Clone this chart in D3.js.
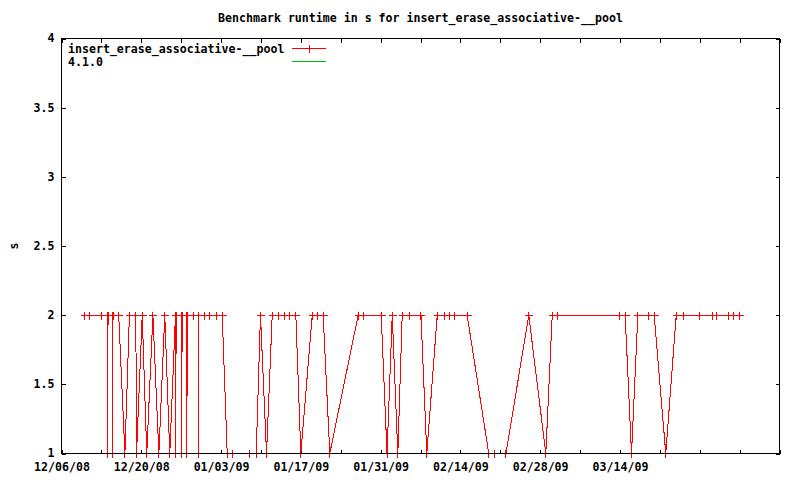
<!DOCTYPE html>
<html><head><meta charset="utf-8">
<script src="https://cdn.jsdelivr.net/npm/d3@7"></script>
<style>
body{margin:0;background:#fff;}
svg{display:block;}
text{font-family:"DejaVu Sans Mono",monospace;font-weight:bold;font-size:11.6px;fill:#000;}
</style></head><body>
<svg id="c" width="800" height="480"></svg>
<script>
const title = "Benchmark runtime in s for insert_erase_associative-__pool";
const seriesName = "insert_erase_associative-__pool";
const series2Name = "4.1.0";
const yLabel = "s";

const times = [
"2008-12-10 02:00","2008-12-10 23:00","2008-12-13 02:00","2008-12-14 02:00","2008-12-14 03:00","2008-12-14 04:00",
"2008-12-14 23:00","2008-12-15 00:00","2008-12-15 01:00","2008-12-16 01:00","2008-12-17 03:00","2008-12-17 22:00",
"2008-12-19 01:00","2008-12-19 04:00","2008-12-20 04:00","2008-12-20 23:00","2008-12-22 01:00","2008-12-23 02:00",
"2008-12-24 03:00","2008-12-25 00:00","2008-12-26 00:00","2008-12-26 01:30","2008-12-26 02:40","2008-12-27 01:00",
"2008-12-27 02:40","2008-12-27 03:55","2008-12-27 23:00","2008-12-28 00:10","2008-12-28 01:25","2008-12-29 02:40",
"2008-12-30 01:20","2008-12-30 02:15","2008-12-30 03:05","2008-12-31 02:00","2009-01-01 01:00","2009-01-02 03:30",
"2009-01-03 05:00","2009-01-04 02:00","2009-01-05 01:30","2009-01-08 01:00","2009-01-09 04:00","2009-01-09 22:00",
"2009-01-10 23:30","2009-01-11 23:30","2009-01-13 03:00","2009-01-14 03:00","2009-01-15 01:30","2009-01-16 03:00",
"2009-01-17 00:00","2009-01-19 00:00","2009-01-19 23:30","2009-01-20 22:00","2009-01-22 02:00","2009-01-27 01:30",
"2009-01-28 01:00","2009-01-31 02:30","2009-02-01 03:00","2009-02-02 01:00","2009-02-03 00:30","2009-02-03 19:00",
"2009-02-05 01:30","2009-02-07 02:00","2009-02-08 02:30","2009-02-09 22:30","2009-02-11 03:00","2009-02-12 02:00",
"2009-02-13 00:30","2009-02-15 04:30","2009-02-18 23:30","2009-02-20 01:00","2009-02-22 00:00","2009-02-26 00:00",
"2009-02-28 23:45","2009-03-02 02:45","2009-03-03 02:15","2009-03-13 23:30","2009-03-14 22:00","2009-03-16 00:45",
"2009-03-17 03:15","2009-03-19 01:30","2009-03-20 00:15","2009-03-22 01:00","2009-03-23 21:00","2009-03-25 02:30",
"2009-03-28 00:30","2009-03-30 04:30","2009-03-30 22:45","2009-04-02 02:30","2009-04-02 23:30","2009-04-04 01:00"
];
const values = [
2,2,2,2,1,2,
2,1,2,2,1,2,
2,1,2,1,2,1,
2,1,2,1,2,2,
1,2,2,1,2,2,
2,1,2,2,2,2,
2,1,1,1,1,2,
1,2,2,2,2,2,
1,2,2,2,1,2,
2,2,1,2,1,2,
2,2,1,2,2,2,
2,2,1,1,1,2,
1,2,2,2,2,1,
2,2,2,1,2,2,
2,2,2,2,2,2
];
const xDomain = ["2008-12-06 00:00","2009-04-11 00:00"];
const xTickLabels = ["2008-12-06","2008-12-20","2009-01-03","2009-01-17","2009-01-31","2009-02-14","2009-02-28","2009-03-14"];
const yDomain = [1,4];
const yTicks = [1,1.5,2,2.5,3,3.5,4];
const yTickLabels = ["1","1.5","2","2.5","3","3.5","4"];

const parse = d3.utcParse("%Y-%m-%d %H:%M");
const parseDay = d3.utcParse("%Y-%m-%d");
const fmt = d3.utcFormat("%m/%d/%y");
const data = times.map((t,i)=>({t:parse(t), v:values[i]}));

const L=61.5, R=779.5, T=38.5, B=453.5;
const svg = d3.select("#c");
const x = d3.scaleUtc().domain(xDomain.map(parse)).range([L,R]);
const y = d3.scaleLinear().domain(yDomain).range([B,T]);

const labelSet = new Set(xTickLabels.map(s=>+parseDay(s)));
const weekly = d3.utcDay.range(x.domain()[0], new Date(+x.domain()[1]+1), 7);

// title
svg.append("text").attr("x",(L+R)/2).attr("y",22).attr("text-anchor","middle").text(title);
// y label
svg.append("text").attr("transform","translate(18,246) rotate(-90)").attr("text-anchor","middle").text(yLabel);

// axes
const gB = svg.append("g").attr("transform",`translate(0,${B})`)
  .call(d3.axisBottom(x).tickValues(weekly).tickSizeInner(-4).tickSizeOuter(0).tickPadding(9)
    .tickFormat(d=>labelSet.has(+d)?fmt(d):""));
const gT = svg.append("g").attr("transform",`translate(0,${T})`)
  .call(d3.axisTop(x).tickValues(weekly).tickSizeInner(-4).tickSizeOuter(0).tickFormat(""));
const gL = svg.append("g").attr("transform",`translate(${L},0)`)
  .call(d3.axisLeft(y).tickValues(yTicks).tickSizeInner(-4).tickSizeOuter(0).tickPadding(7)
    .tickFormat((d,i)=>yTickLabels[i]));
const gR = svg.append("g").attr("transform",`translate(${R},0)`)
  .call(d3.axisRight(y).tickValues(yTicks).tickSizeInner(-4).tickSizeOuter(0).tickFormat(""));
[gB,gT,gL,gR].forEach(g=>{
  g.select(".domain").remove();
  g.attr("font-family",null).attr("font-size",null);
  g.selectAll("line").attr("stroke","#000").attr("shape-rendering","crispEdges");
  g.selectAll("text").attr("fill","#000");
});
gL.selectAll("text").attr("dy","0.3em");

// clip
svg.append("clipPath").attr("id","clip").append("rect").attr("x",L).attr("y",T).attr("width",R-L).attr("height",B-T);

// data line
const line = d3.line().x(d=>x(d.t)).y(d=>y(d.v));
svg.append("path").datum(data).attr("clip-path","url(#clip)")
  .attr("d",line).attr("fill","none").attr("stroke","#ff0000").attr("stroke-width",1)
  .attr("shape-rendering","crispEdges");

// markers
const mk = svg.append("g").attr("stroke","#ff0000").attr("stroke-width",1).attr("shape-rendering","crispEdges");
function plus(g,cx,cy){
  const px=Math.floor(cx)+0.5, py=Math.floor(cy)+0.5;
  g.append("path").attr("d",`M${px-4},${py}H${px+4}M${px},${py-4}V${py+4}`);
}
data.forEach(d=>plus(mk,x(d.t),y(d.v)));

// border
svg.append("rect").attr("x",L).attr("y",T).attr("width",R-L).attr("height",B-T)
  .attr("fill","none").attr("stroke","#000").attr("shape-rendering","crispEdges");

// legend
const lg = svg.append("g");
lg.append("text").attr("x",68).attr("y",52.5).text(seriesName);
lg.append("line").attr("x1",292).attr("x2",326).attr("y1",48.5).attr("y2",48.5).attr("stroke","#ff0000").attr("shape-rendering","crispEdges");
plus(lg.append("g").attr("stroke","#ff0000").attr("shape-rendering","crispEdges"),309,48);
lg.append("text").attr("x",68).attr("y",66).text(series2Name);
lg.append("line").attr("x1",292).attr("x2",326).attr("y1",61.5).attr("y2",61.5).attr("stroke","#00c000").attr("shape-rendering","crispEdges");
</script>
</body></html>
